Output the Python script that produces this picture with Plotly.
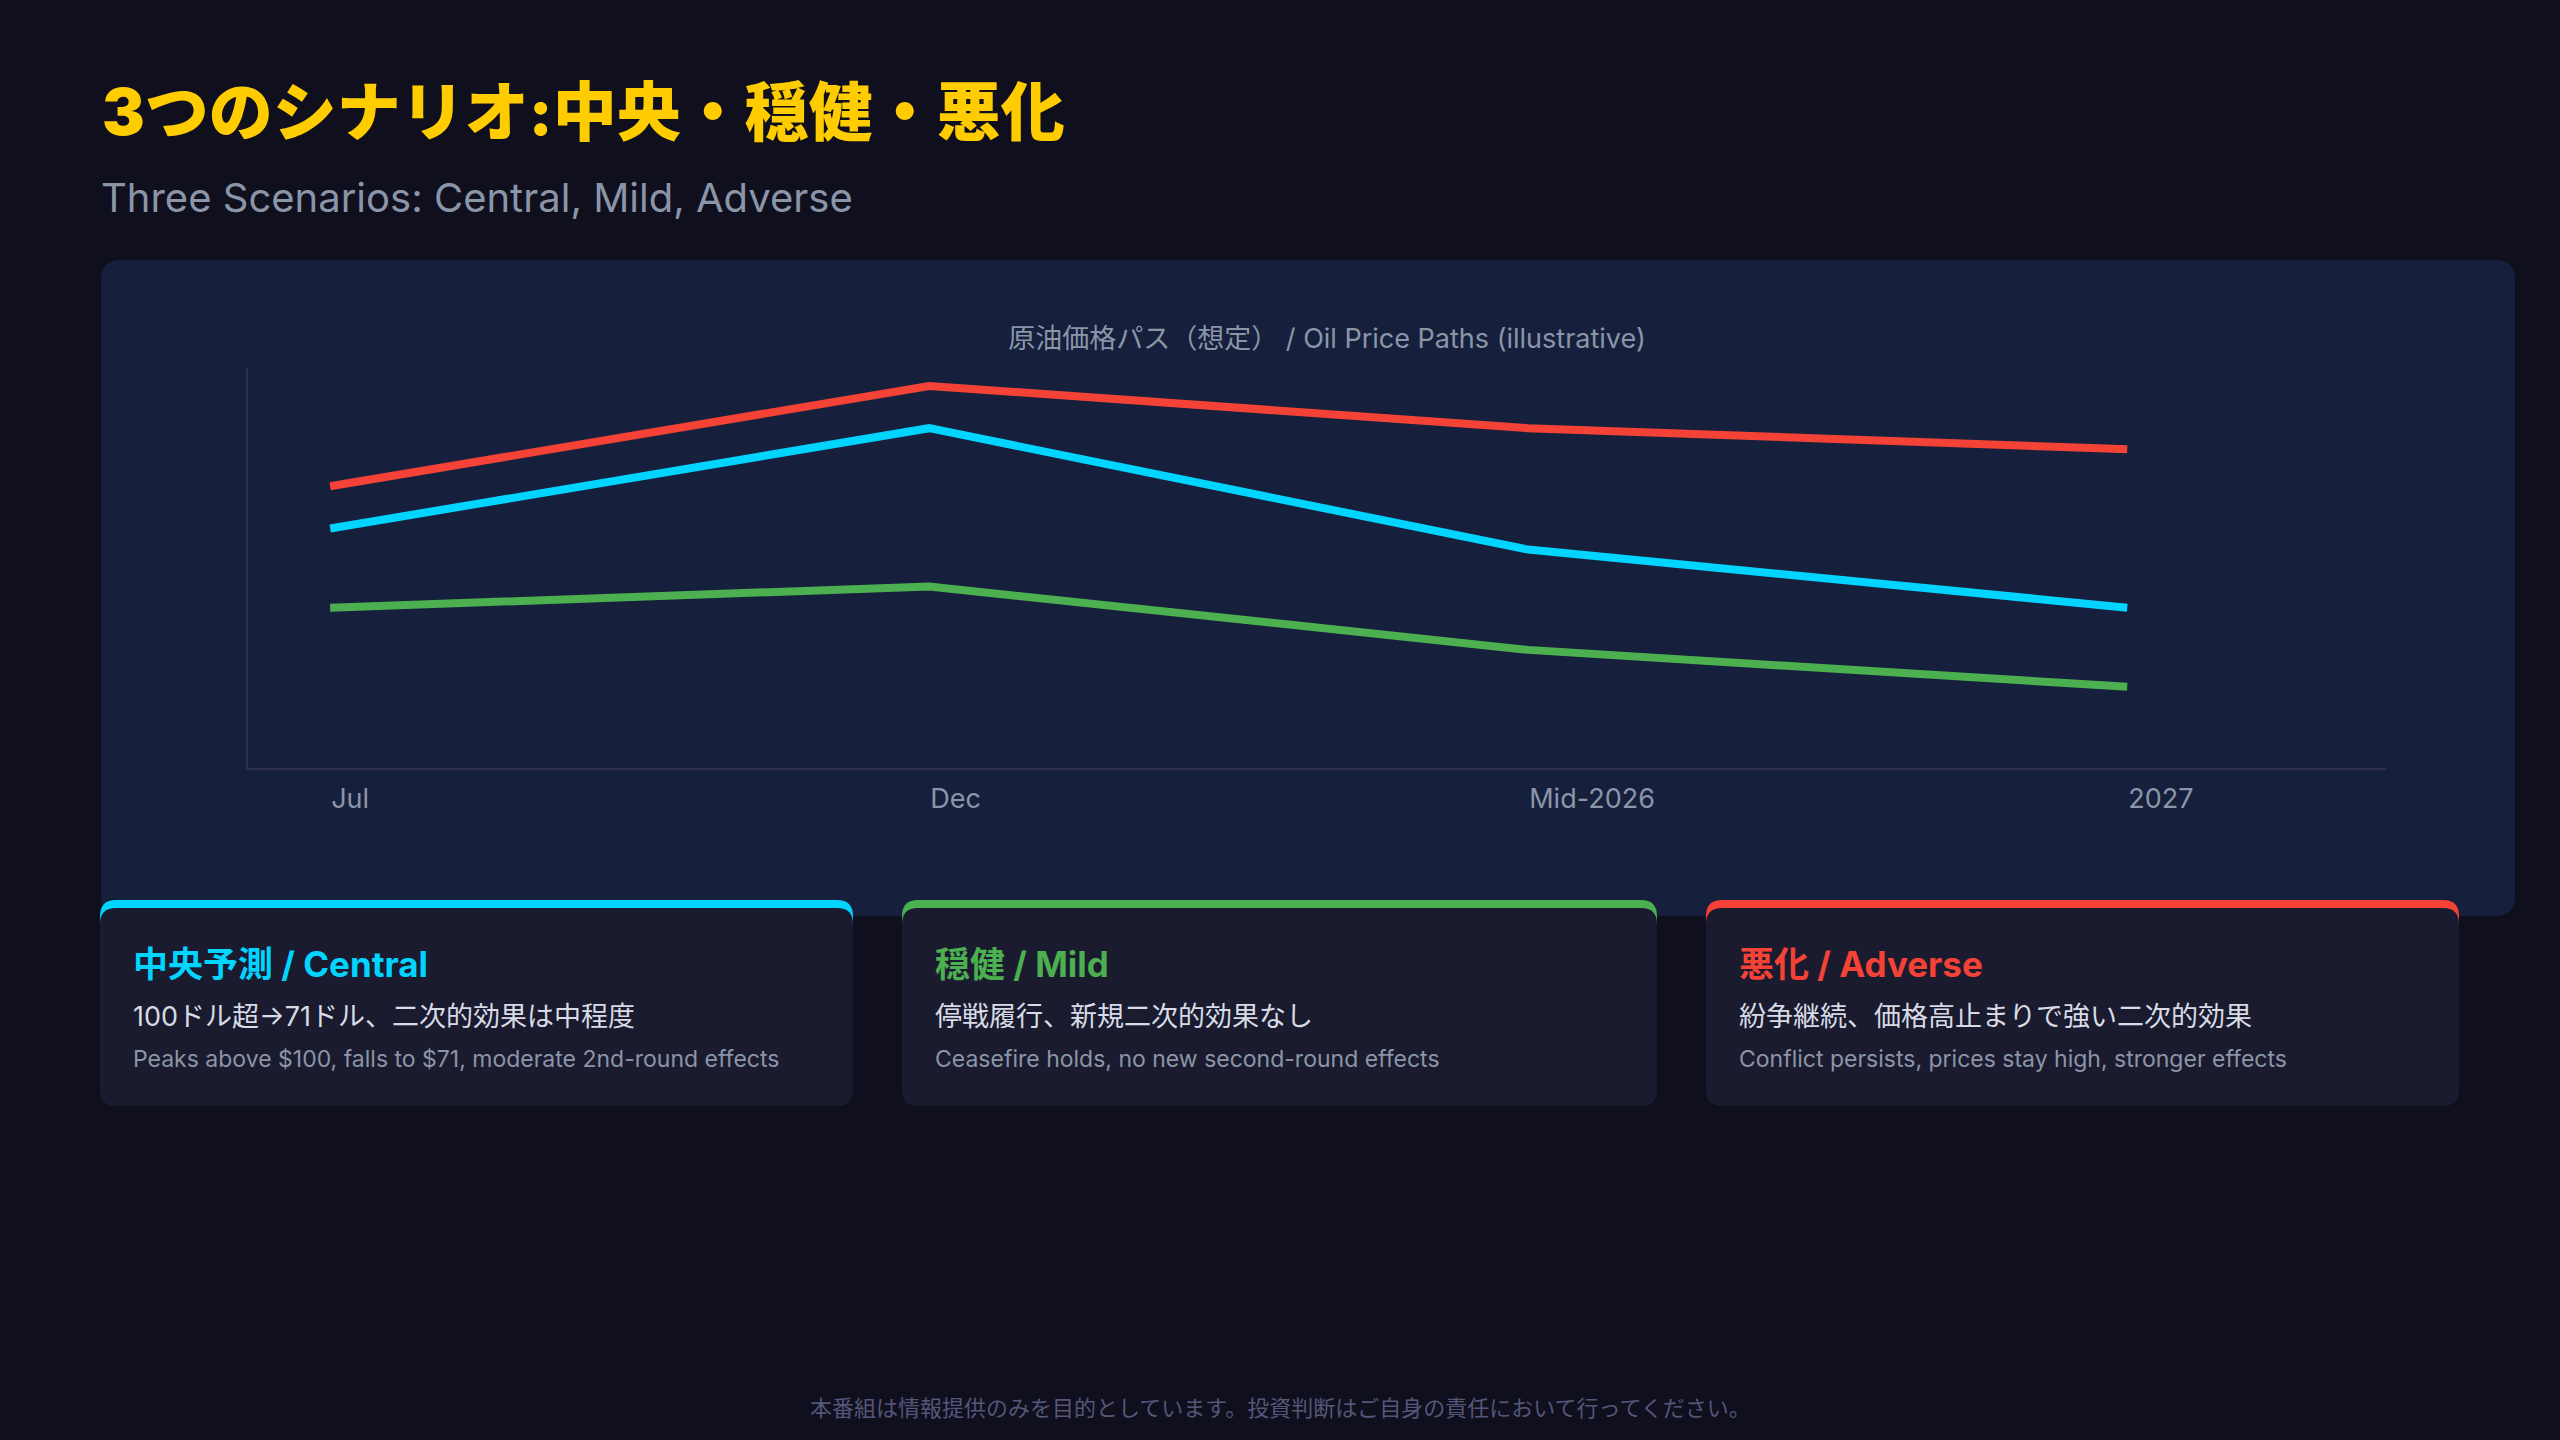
import plotly.graph_objects as go

# canvas size (px) - shapes/annotations are placed in pixels and converted to paper coords
W, H = 2560, 1440

#####################################################################
##########           DATA                    ########################
#####################################################################

periods = ["Jul", "Dec", "Mid-2026", "2027"]
central = [86, 105, 82, 71]
mild = [71, 75, 63, 56]
adverse = [94, 113, 105, 101]

scenario_names = ["中央予測 / Central", "穏健 / Mild", "悪化 / Adverse"]
scenario_jp = ["100ドル超→71ドル、二次的効果は中程度",
               "停戦履行、新規二次的効果なし",
               "紛争継続、価格高止まりで強い二次的効果"]
scenario_en = ["Peaks above $100, falls to $71, moderate 2nd-round effects",
               "Ceasefire holds, no new second-round effects",
               "Conflict persists, prices stay high, stronger effects"]

title_jp = "3つのシナリオ:中央・穏健・悪化"
title_en = "Three Scenarios: Central, Mild, Adverse"
chart_title = "原油価格パス（想定） / Oil Price Paths (illustrative)"
footer = "本番組は情報提供のみを目的としています。投資判断はご自身の責任において行ってください。"

# colours
BG = "#0f0f1e"
PANEL = "#16203c"
CARD = "#1a1b2e"
CYAN = "#00d4ff"
GREEN = "#4caf50"
RED = "#f44336"
MUTED = "#8b95a8"
FONT = "Inter, 'Noto Sans CJK JP', sans-serif"


def px(x):
    return x / W


def py(y):
    return 1 - y / H


def rounded_path(x0, y0, x1, y1, r, bottom_round=True):
    # rounded rectangle as an svg path in paper coords (y0 = top in pixels)
    rb = r if bottom_round else 0
    pts = [
        f"M {px(x0 + r)},{py(y0)}",
        f"L {px(x1 - r)},{py(y0)}",
        f"Q {px(x1)},{py(y0)} {px(x1)},{py(y0 + r)}",
        f"L {px(x1)},{py(y1 - rb)}",
        f"Q {px(x1)},{py(y1)} {px(x1 - rb)},{py(y1)}",
        f"L {px(x0 + rb)},{py(y1)}",
        f"Q {px(x0)},{py(y1)} {px(x0)},{py(y1 - rb)}",
        f"L {px(x0)},{py(y0 + r)}",
        f"Q {px(x0)},{py(y0)} {px(x0 + r)},{py(y0)}",
        "Z",
    ]
    return " ".join(pts)


#####################################################################
##########           FIGURE                  ########################
#####################################################################

fig = go.Figure()

x_idx = list(range(len(periods)))
for name, vals, col in [(scenario_names[2], adverse, RED),
                        (scenario_names[0], central, CYAN),
                        (scenario_names[1], mild, GREEN)]:
    fig.add_trace(go.Scatter(x=x_idx, y=vals, name=name, mode="lines",
                             line=dict(color=col, width=8), hoverinfo="skip"))

shapes = []
# chart panel
shapes.append(dict(type="path", xref="paper", yref="paper", layer="below",
                   path=rounded_path(101, 260, 2515, 916, 20),
                   fillcolor=PANEL, line=dict(width=0)))

annotations = []
card_x = [(100, 853), (902, 1657), (1706, 2459)]
card_cols = [CYAN, GREEN, RED]
for (x0, x1), col, name, jp, en in zip(card_x, card_cols, scenario_names, scenario_jp, scenario_en):
    # coloured top border
    shapes.append(dict(type="path", xref="paper", yref="paper", layer="below",
                       path=rounded_path(x0, 900, x1, 950, 16, bottom_round=False),
                       fillcolor=col, line=dict(width=0)))
    shapes.append(dict(type="path", xref="paper", yref="paper", layer="below",
                       path=rounded_path(x0, 908, x1, 1106, 16),
                       fillcolor=CARD, line=dict(width=0)))
    annotations.append(dict(text=f"<b>{name}</b>", x=px(x0 + 31), y=py(964),
                            font=dict(size=35, color=col, family=FONT)))
    annotations.append(dict(text=jp, x=px(x0 + 31), y=py(1016),
                            font=dict(size=27, color="#d8dbe6", family=FONT)))
    annotations.append(dict(text=en, x=px(x0 + 31), y=py(1059),
                            font=dict(size=23, color=MUTED, family=FONT)))

annotations.append(dict(text=title_jp, x=px(100), y=py(112),
                        font=dict(size=64, color="#ffcc00", family=FONT, weight=900)))
annotations.append(dict(text=title_en, x=px(99), y=py(197),
                        font=dict(size=40, color=MUTED, family=FONT)))
annotations.append(dict(text=footer, x=0.5, y=py(1408), xanchor="center",
                        font=dict(size=22, color="#55567a", family=FONT)))

for a in annotations:
    a.setdefault("xanchor", "left")
    a.update(xref="paper", yref="paper", yanchor="middle", showarrow=False)

AXIS_COL = "#2e2d52"
fig.update_layout(
    width=W, height=H,
    margin=dict(l=0, r=0, t=0, b=0),
    paper_bgcolor=BG, plot_bgcolor="rgba(0,0,0,0)",
    showlegend=False,
    shapes=shapes, annotations=annotations,
    title=dict(text=chart_title, x=px(1327), y=py(339), xanchor="center", yanchor="middle",
               xref="paper", yref="paper", font=dict(size=27, color=MUTED, family=FONT)),
    xaxis=dict(domain=[px(247.5), px(2386)], range=[-0.138, 3.432],
               tickvals=x_idx, ticktext=periods, ticks="",
               ticklabelposition="outside right", ticklabelstandoff=6,
               tickfont=dict(size=27, color=MUTED, family=FONT),
               showline=True, linecolor=AXIS_COL, linewidth=2,
               showgrid=False, zeroline=False, fixedrange=True),
    yaxis=dict(domain=[py(767.6), py(368)], range=[40.7, 116.4],
               showticklabels=False, ticks="",
               showline=True, linecolor=AXIS_COL, linewidth=2,
               showgrid=False, zeroline=False, fixedrange=True),
)

fig.write_html("out.html", config={"displayModeBar": False},
               post_script="document.body.style.margin='0';"
                           "document.body.style.overflow='hidden';"
                           f"document.body.style.background='{BG}';")
